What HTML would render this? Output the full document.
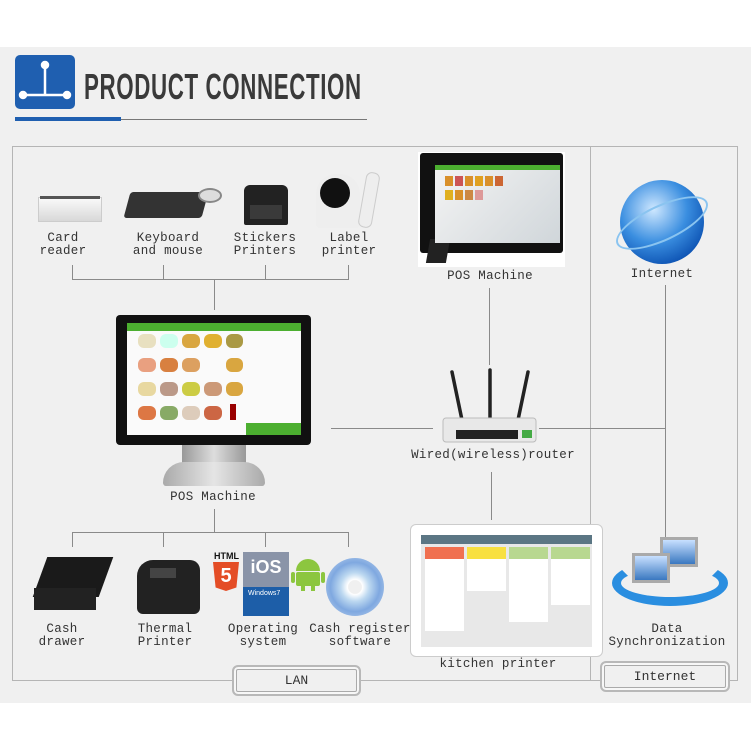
<!DOCTYPE html>
<html><head><meta charset="utf-8"><style>
*{margin:0;padding:0;box-sizing:border-box}
body{width:751px;height:751px;background:#fff;position:relative;overflow:hidden;font-family:"Liberation Mono","DejaVu Sans Mono",monospace}
.bg{position:absolute;left:0;top:47px;width:751px;height:656px;background:#f0f0f0}
.a{position:absolute}
.l{position:absolute;background:#8a8a8a}
.t{position:absolute;font-size:12.5px;color:#333;text-align:center;line-height:13px;white-space:nowrap;transform:translateX(-50%);letter-spacing:0.3px}
.box{position:absolute;border:2px solid #b8b8b8;border-radius:6px;box-shadow:inset 0 0 0 2px #f7f7f7,inset 0 0 0 3px #aaa;font-size:13px;color:#333;text-align:center}
</style></head><body>
<div class="bg"></div>
<!-- header -->
<div class="a" style="left:15px;top:55px;width:60px;height:54px;background:#1f5fb0;border-radius:5px"></div>
<svg class="a" style="left:15px;top:55px" width="60" height="54"><g stroke="#fff" stroke-width="2.5" fill="#fff"><line x1="30" y1="10" x2="30" y2="40"/><line x1="8" y1="40" x2="52" y2="40"/><circle cx="30" cy="10" r="3"/><circle cx="8" cy="40" r="3"/><circle cx="52" cy="40" r="3"/></g></svg>
<div class="a" style="left:84px;top:66px;font-family:'Liberation Sans',sans-serif;font-weight:bold;font-size:36px;color:#3a3a3a;transform:scaleX(0.62);transform-origin:left top;letter-spacing:1px;white-space:nowrap">PRODUCT CONNECTION</div>
<div class="a" style="left:15px;top:117px;width:106px;height:4px;background:#1f5fb0"></div>
<div class="a" style="left:121px;top:119px;width:246px;height:1px;background:#777"></div>
<!-- frame -->
<div class="a" style="left:12px;top:146px;width:726px;height:535px;border:1px solid #b5b5b5"></div>
<div class="a" style="left:590px;top:146px;width:1px;height:535px;background:#b5b5b5"></div>
<!-- top bracket -->
<div class="l" style="left:72px;top:279px;width:277px;height:1px"></div>
<div class="l" style="left:72px;top:265px;width:1px;height:15px"></div>
<div class="l" style="left:163px;top:265px;width:1px;height:15px"></div>
<div class="l" style="left:265px;top:265px;width:1px;height:15px"></div>
<div class="l" style="left:348px;top:265px;width:1px;height:15px"></div>
<div class="l" style="left:214px;top:279px;width:1px;height:31px"></div>
<!-- bottom bracket -->
<div class="l" style="left:214px;top:509px;width:1px;height:23px"></div>
<div class="l" style="left:72px;top:532px;width:277px;height:1px"></div>
<div class="l" style="left:72px;top:532px;width:1px;height:15px"></div>
<div class="l" style="left:163px;top:532px;width:1px;height:15px"></div>
<div class="l" style="left:265px;top:532px;width:1px;height:15px"></div>
<div class="l" style="left:348px;top:532px;width:1px;height:15px"></div>
<!-- router lines -->
<div class="l" style="left:489px;top:288px;width:1px;height:77px"></div>
<div class="l" style="left:331px;top:428px;width:102px;height:1px"></div>
<div class="l" style="left:539px;top:428px;width:126px;height:1px"></div>
<div class="l" style="left:665px;top:285px;width:1px;height:252px"></div>
<div class="l" style="left:491px;top:472px;width:1px;height:48px"></div>
<!-- top devices -->
<div class="a" style="left:38px;top:197px;width:64px;height:25px;background:linear-gradient(#fafafa,#d8d8d8);border:1px solid #ccc"></div>
<div class="a" style="left:40px;top:196px;width:60px;height:3px;background:#555"></div>
<div class="a" style="left:127px;top:192px;width:78px;height:26px;background:#333;transform:skewX(-15deg);border-radius:3px"></div>
<div class="a" style="left:198px;top:188px;width:24px;height:15px;background:#ddd;border:2px solid #888;border-radius:50%"></div>
<div class="a" style="left:244px;top:185px;width:44px;height:40px;background:#222;border-radius:6px 6px 2px 2px"></div>
<div class="a" style="left:250px;top:205px;width:32px;height:14px;background:#3a3a3a"></div>
<div class="a" style="left:316px;top:174px;width:44px;height:54px;background:#eee;border-radius:20px 20px 4px 4px"></div>
<div class="a" style="left:320px;top:178px;width:30px;height:30px;background:#111;border-radius:50%"></div>
<div class="a" style="left:362px;top:172px;width:14px;height:56px;background:#eee;border:1px solid #ccc;border-radius:6px;transform:rotate(10deg)"></div>
<div class="t" style="left:63px;top:232px">Card<br>reader</div>
<div class="t" style="left:168px;top:232px">Keyboard<br>and mouse</div>
<div class="t" style="left:265px;top:232px">Stickers<br>Printers</div>
<div class="t" style="left:349px;top:232px">Label<br>printer</div>
<!-- center POS -->
<div class="a" style="left:116px;top:315px;width:195px;height:130px;background:#111;border-radius:4px"></div>
<div class="a" style="left:127px;top:323px;width:174px;height:112px;background:#fafafa"></div>
<div class="a" style="left:127px;top:323px;width:174px;height:8px;background:#4caf30"></div>
<div class="a" style="left:246px;top:423px;width:55px;height:12px;background:#4caf30"></div>
<svg class="a" style="left:138px;top:334px" width="105" height="90"><g fill="#d9a640"><rect x="0" y="0" width="18" height="14" rx="6" fill="#e8e0c0"/><rect x="22" y="0" width="18" height="14" rx="6" fill="#cfe"/><rect x="44" y="0" width="18" height="14" rx="6"/><rect x="66" y="0" width="18" height="14" rx="6" fill="#e0b030"/><rect x="88" y="0" width="17" height="14" rx="6" fill="#a94"/><rect x="0" y="24" width="18" height="14" rx="6" fill="#e9a080"/><rect x="22" y="24" width="18" height="14" rx="6" fill="#d88040"/><rect x="44" y="24" width="18" height="14" rx="6" fill="#dca060"/><rect x="88" y="24" width="17" height="14" rx="6"/><rect x="0" y="48" width="18" height="14" rx="6" fill="#e8d8a0"/><rect x="22" y="48" width="18" height="14" rx="6" fill="#b98"/><rect x="44" y="48" width="18" height="14" rx="6" fill="#cc4"/><rect x="66" y="48" width="18" height="14" rx="6" fill="#c97"/><rect x="88" y="48" width="17" height="14" rx="6"/><rect x="0" y="72" width="18" height="14" rx="6" fill="#d74"/><rect x="22" y="72" width="18" height="14" rx="6" fill="#8a6"/><rect x="44" y="72" width="18" height="14" rx="6" fill="#dcb"/><rect x="66" y="72" width="18" height="14" rx="6" fill="#c64"/><rect x="92" y="70" width="6" height="16" fill="#900"/></g></svg>
<div class="a" style="left:182px;top:445px;width:64px;height:20px;background:linear-gradient(90deg,#999,#ddd,#999)"></div>
<div class="a" style="left:163px;top:462px;width:102px;height:24px;background:linear-gradient(90deg,#aaa,#e5e5e5,#aaa);border-radius:40px 40px 6px 6px"></div>
<div class="t" style="left:213px;top:491px">POS Machine</div>
<!-- right POS tablet -->
<div class="a" style="left:418px;top:152px;width:147px;height:115px;background:#fff"></div>
<div class="a" style="left:420px;top:153px;width:143px;height:100px;background:#111;border-radius:3px"></div>
<div class="a" style="left:428px;top:239px;width:20px;height:24px;background:#222;transform:skewX(-10deg)"></div>
<div class="a" style="left:435px;top:165px;width:125px;height:78px;background:linear-gradient(135deg,#f4f4f4,#d0d6da)"></div>
<div class="a" style="left:435px;top:165px;width:125px;height:5px;background:#4caf30"></div>
<svg class="a" style="left:445px;top:176px" width="80" height="30"><g fill="#d9902a"><rect x="0" y="0" width="8" height="10"/><rect x="10" y="0" width="8" height="10" fill="#c55"/><rect x="20" y="0" width="8" height="10"/><rect x="30" y="0" width="8" height="10" fill="#e0a020"/><rect x="40" y="0" width="8" height="10"/><rect x="50" y="0" width="8" height="10" fill="#c63"/><rect x="0" y="14" width="8" height="10" fill="#e0b020"/><rect x="10" y="14" width="8" height="10"/><rect x="20" y="14" width="8" height="10" fill="#c84"/><rect x="30" y="14" width="8" height="10" fill="#d99"/></g></svg>
<div class="t" style="left:490px;top:270px">POS Machine</div>
<!-- globe -->
<div class="a" style="left:620px;top:180px;width:84px;height:84px;border-radius:50%;background:radial-gradient(circle at 40% 35%,#cfe8ff,#3a8ee0 45%,#0a4fb0 80%)"></div>
<div class="a" style="left:612px;top:205px;width:100px;height:36px;border:2px solid #8ac4f0;border-radius:50%;transform:rotate(-25deg)"></div>
<div class="t" style="left:662px;top:268px">Internet</div>
<!-- router -->
<svg class="a" style="left:440px;top:368px" width="100" height="76"><g stroke="#222" stroke-width="3.5" stroke-linecap="round"><line x1="12" y1="4" x2="22" y2="52"/><line x1="50" y1="2" x2="50" y2="52"/><line x1="88" y1="4" x2="78" y2="52"/></g><rect x="3" y="50" width="93" height="24" rx="3" fill="#e8e8e8" stroke="#bbb"/><rect x="16" y="62" width="62" height="9" fill="#222"/><rect x="82" y="62" width="10" height="8" fill="#4a4"/></svg>
<div class="t" style="left:493px;top:449px">Wired(wireless)router</div>
<!-- kitchen printer -->
<div class="a" style="left:410px;top:524px;width:193px;height:133px;background:#fff;border:1px solid #ccc;border-radius:6px"></div>
<div class="a" style="left:421px;top:535px;width:171px;height:112px;background:#e8e8e8"></div>
<div class="a" style="left:421px;top:535px;width:171px;height:9px;background:#5b7684"></div>
<div class="a" style="left:425px;top:547px;width:39px;height:12px;background:#f07050"></div>
<div class="a" style="left:467px;top:547px;width:39px;height:12px;background:#f8e040"></div>
<div class="a" style="left:509px;top:547px;width:39px;height:12px;background:#b8d890"></div>
<div class="a" style="left:551px;top:547px;width:39px;height:12px;background:#b8d890"></div>
<div class="a" style="left:425px;top:559px;width:39px;height:72px;background:#fff"></div>
<div class="a" style="left:467px;top:559px;width:39px;height:32px;background:#fff"></div>
<div class="a" style="left:509px;top:559px;width:39px;height:63px;background:#fff"></div>
<div class="a" style="left:551px;top:559px;width:39px;height:46px;background:#fff"></div>
<div class="t" style="left:498px;top:658px">kitchen printer</div>
<!-- data sync -->
<div class="a" style="left:612px;top:560px;width:116px;height:46px;border:9px solid #2a8ee0;border-top-color:transparent;border-radius:50%"></div>
<div class="a" style="left:660px;top:537px;width:38px;height:30px;background:linear-gradient(#c8e0ff,#3a78c0);border:3px solid #aaa"></div>
<div class="a" style="left:632px;top:553px;width:38px;height:30px;background:linear-gradient(#c8e0ff,#3a78c0);border:3px solid #aaa"></div>
<div class="t" style="left:667px;top:623px">Data<br>Synchronization</div>
<!-- bottom devices -->
<div class="a" style="left:40px;top:557px;width:66px;height:40px;background:#1a1a1a;transform:skewX(-20deg)"></div>
<div class="a" style="left:34px;top:588px;width:62px;height:22px;background:#222"></div>
<div class="a" style="left:137px;top:560px;width:63px;height:54px;background:#222;border-radius:16px 10px 6px 6px"></div>
<div class="a" style="left:150px;top:568px;width:26px;height:10px;background:#444"></div>
<div class="a" style="left:214px;top:551px;font:bold 9px 'Liberation Sans',sans-serif;color:#111">HTML</div>
<div class="a" style="left:213px;top:562px;width:26px;height:29px;background:#e44d26;clip-path:polygon(0 0,100% 0,90% 88%,50% 100%,10% 88%);color:#fff;font:bold 20px 'Liberation Sans',sans-serif;text-align:center;line-height:29px">5</div>
<div class="a" style="left:243px;top:552px;width:46px;height:64px;background:linear-gradient(#8a94a8 55%,#1d5ea8 55%)"></div>
<div class="a" style="left:243px;top:557px;width:46px;font:bold 18px 'Liberation Sans',sans-serif;color:#fff;text-align:center">iOS</div>
<div class="a" style="left:248px;top:590px;font:7px 'Liberation Sans',sans-serif;color:#fff">Windows7</div>
<svg class="a" style="left:290px;top:555px" width="36" height="36"><path d="M6 16 a12 12 0 0 1 24 0z" fill="#8cc63f"/><rect x="6" y="17" width="24" height="14" rx="2" fill="#8cc63f"/><rect x="1" y="17" width="4" height="11" rx="2" fill="#8cc63f"/><rect x="31" y="17" width="4" height="11" rx="2" fill="#8cc63f"/><rect x="11" y="30" width="4" height="6" fill="#8cc63f"/><rect x="21" y="30" width="4" height="6" fill="#8cc63f"/></svg>
<div class="a" style="left:326px;top:558px;width:58px;height:58px;border-radius:50%;background:radial-gradient(circle,#f0f0f0 16%,#fff 18%,#bcd8f0 35%,#7fa8e0 60%,#c8daf0 100%)"></div>
<div class="t" style="left:62px;top:623px">Cash<br>drawer</div>
<div class="t" style="left:165px;top:623px">Thermal<br>Printer</div>
<div class="t" style="left:263px;top:623px">Operating<br>system</div>
<div class="t" style="left:360px;top:623px">Cash register<br>software</div>
<!-- labels boxes -->
<div class="box" style="left:232px;top:665px;width:129px;height:31px;line-height:27px;background:#f0f0f0">LAN</div>
<div class="box" style="left:600px;top:661px;width:130px;height:31px;line-height:27px;background:#f0f0f0">Internet</div>
</body></html>
